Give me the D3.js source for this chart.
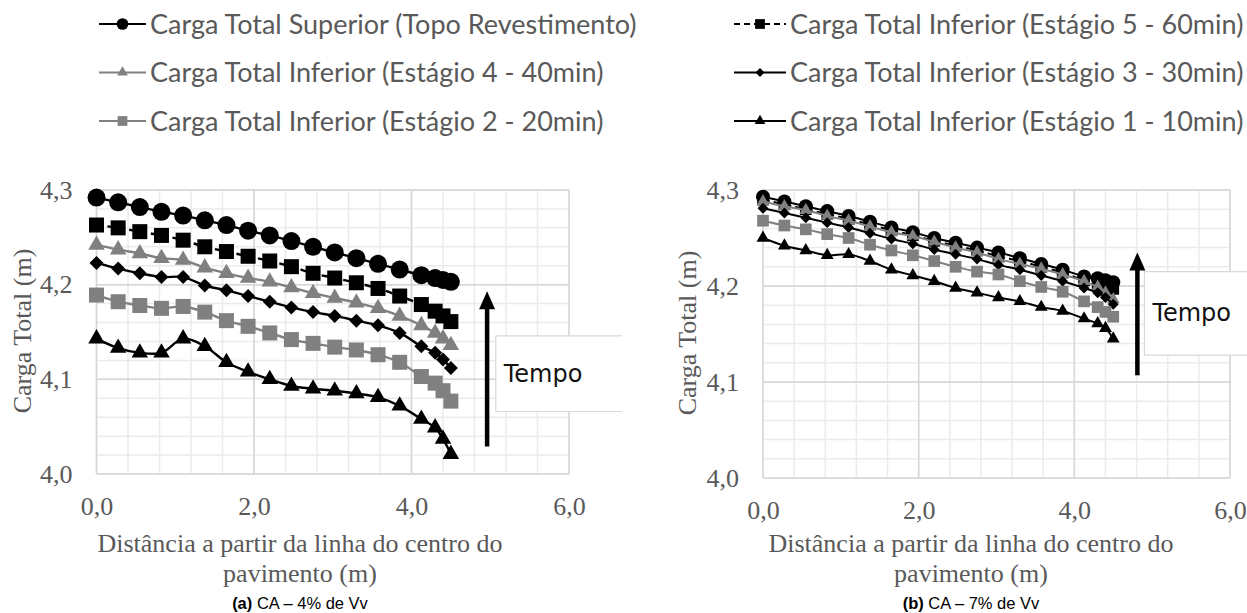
<!DOCTYPE html>
<html>
<head>
<meta charset="utf-8">
<script src="https://cdn.jsdelivr.net/npm/d3@7"></script>
<style>
body { margin: 0; background: #fff; }
svg { display: block; }
</style>
</head>
<body>
<script>
const W = 1247, H = 613

// distance from pavement centre line (m)
const distancia = [0, 0.275, 0.55, 0.825, 1.1, 1.375, 1.65, 1.925, 2.2, 2.475, 2.75, 3.025, 3.3, 3.575, 3.85, 4.125, 4.3, 4.4, 4.5]

const legendLabels = [
    "Carga Total Superior (Topo Revestimento)",
    "Carga Total Inferior (Estágio 5 - 60min)",
    "Carga Total Inferior (Estágio 4 - 40min)",
    "Carga Total Inferior (Estágio 3 - 30min)",
    "Carga Total Inferior (Estágio 2 - 20min)",
    "Carga Total Inferior (Estágio 1 - 10min)"
]

const yTicks = [4.0, 4.1, 4.2, 4.3]
const xTicks = [0, 2, 4, 6]

// (a) CA - 4% de Vv
const supA = [4.292, 4.287, 4.282, 4.277, 4.273, 4.268, 4.263, 4.257, 4.252, 4.246, 4.240, 4.234, 4.228, 4.222, 4.216, 4.210, 4.207, 4.205, 4.203]
const est5A = [4.263, 4.260, 4.256, 4.252, 4.247, 4.240, 4.235, 4.230, 4.225, 4.219, 4.212, 4.207, 4.202, 4.196, 4.188, 4.179, 4.172, 4.167, 4.161]
const est4A = [4.242, 4.237, 4.233, 4.228, 4.226, 4.218, 4.212, 4.207, 4.203, 4.197, 4.191, 4.186, 4.181, 4.175, 4.167, 4.157, 4.149, 4.143, 4.136]
const est3A = [4.223, 4.217, 4.212, 4.208, 4.208, 4.199, 4.194, 4.188, 4.182, 4.176, 4.171, 4.167, 4.162, 4.157, 4.149, 4.135, 4.128, 4.121, 4.112]
const est2A = [4.189, 4.182, 4.178, 4.175, 4.177, 4.171, 4.162, 4.156, 4.149, 4.142, 4.138, 4.134, 4.131, 4.126, 4.118, 4.103, 4.096, 4.088, 4.077]
const est1A = [4.143, 4.133, 4.128, 4.128, 4.143, 4.135, 4.118, 4.108, 4.100, 4.093, 4.090, 4.088, 4.085, 4.081, 4.072, 4.058, 4.049, 4.037, 4.021]

// (b) CA - 7% de Vv
const supB = [4.293, 4.288, 4.283, 4.278, 4.273, 4.267, 4.261, 4.256, 4.250, 4.245, 4.240, 4.235, 4.229, 4.223, 4.217, 4.210, 4.208, 4.206, 4.204]
const est5B = [4.290, 4.285, 4.280, 4.275, 4.270, 4.264, 4.258, 4.253, 4.247, 4.242, 4.237, 4.231, 4.226, 4.220, 4.214, 4.206, 4.203, 4.200, 4.197]
const est4B = [4.288, 4.283, 4.279, 4.273, 4.268, 4.262, 4.256, 4.252, 4.246, 4.240, 4.235, 4.228, 4.223, 4.218, 4.212, 4.205, 4.199, 4.193, 4.186]
const est3B = [4.281, 4.276, 4.271, 4.266, 4.261, 4.255, 4.249, 4.244, 4.238, 4.233, 4.228, 4.222, 4.217, 4.211, 4.205, 4.198, 4.193, 4.188, 4.181]
const est2B = [4.268, 4.263, 4.259, 4.254, 4.250, 4.243, 4.237, 4.232, 4.226, 4.220, 4.215, 4.212, 4.205, 4.199, 4.194, 4.184, 4.178, 4.173, 4.168]
const est1B = [4.250, 4.242, 4.237, 4.232, 4.233, 4.226, 4.217, 4.211, 4.205, 4.198, 4.193, 4.188, 4.184, 4.178, 4.174, 4.166, 4.161, 4.156, 4.145]

const gray = "#808080"
const textGray = "#595959"
const serif = "'Liberation Serif', 'Times New Roman', serif"

// marker / line style per series, same order as legendLabels
const styles = [
    {shape: "circle", color: "#000", dash: null},
    {shape: "square", color: "#000", dash: "7,4"},
    {shape: "triangle", color: gray, dash: null},
    {shape: "diamond", color: "#000", dash: null},
    {shape: "square", color: gray, dash: null},
    {shape: "triangle", color: "#000", dash: null}
]

const svg = d3.select("body").append("svg")
    .attr("width", W)
    .attr("height", H)

function markerPath(shape, s) {
    // s ~ marker width in px
    if (shape == "circle") return d3.symbol(d3.symbolCircle, Math.PI * s * s / 4)()
    if (shape == "square") return d3.symbol(d3.symbolSquare, s * s)()
    if (shape == "diamond") return d3.symbol(d3.symbolSquare, s * s / 2)()
    return d3.symbol(d3.symbolTriangle, s * s * Math.sqrt(3) / 4)()
}
function markerSize(shape, k) {
    let base = {circle: 18, square: 15, triangle: 16.5, diamond: 14}[shape]
    return base * k
}

function drawPanel(p) {
    let x = d3.scaleLinear().domain([0, 6]).range([p.left, p.right])
    let y = d3.scaleLinear().domain([4.0, 4.3]).range([p.bottom, p.top])
    let g = svg.append("g")

    // minor grid
    g.selectAll(".minx").data(d3.range(0, 6.001, 0.4)).enter().append("line")
        .attr("x1", d => x(d)).attr("x2", d => x(d))
        .attr("y1", p.top).attr("y2", p.bottom)
        .attr("stroke", "#ebebeb").attr("stroke-width", 1.5)
    g.selectAll(".miny").data(d3.range(4.0, 4.301, 0.02)).enter().append("line")
        .attr("x1", p.left).attr("x2", p.right)
        .attr("y1", d => y(d)).attr("y2", d => y(d))
        .attr("stroke", "#ebebeb").attr("stroke-width", 1.5)
    // major grid
    g.selectAll(".majx").data(xTicks).enter().append("line")
        .attr("x1", d => x(d)).attr("x2", d => x(d))
        .attr("y1", p.top).attr("y2", p.bottom)
        .attr("stroke", "#d6d6d6").attr("stroke-width", 1.5)
    g.selectAll(".majy").data(yTicks).enter().append("line")
        .attr("x1", p.left).attr("x2", p.right)
        .attr("y1", d => y(d)).attr("y2", d => y(d))
        .attr("stroke", "#d6d6d6").attr("stroke-width", 1.5)

    // axes (labels only)
    let fmt = d => d.toFixed(1).replace(".", ",")
    let ya = g.append("g").attr("transform", `translate(${p.left},0)`)
        .call(d3.axisLeft(y).tickValues(yTicks).tickFormat(fmt).tickSize(0).tickPadding(24))
    let xa = g.append("g").attr("transform", `translate(0,${p.bottom})`)
        .call(d3.axisBottom(x).tickValues(xTicks).tickFormat(fmt).tickSize(0).tickPadding(23))
    for (let a of [ya, xa]) {
        a.select(".domain").remove()
        a.selectAll("text").attr("font-family", serif).attr("font-size", 26).attr("fill", textGray)
    }

    // Tempo box + arrow
    let bx = x(p.boxX), bt = y(p.boxTop), bb = y(p.boxBottom)
    g.append("rect").attr("x", bx).attr("y", bt).attr("width", p.boxEnd - bx).attr("height", bb - bt)
        .attr("fill", "#fff")
    g.append("path")
        .attr("d", `M${p.boxEnd},${bt}H${bx}V${bb}H${p.boxEnd}`)
        .attr("fill", "none").attr("stroke", "#d9d9d9").attr("stroke-width", 1.2)
    g.append("text").attr("x", bx + 8).attr("y", (bt + bb) / 2 + 8)
        .attr("font-family", "'DejaVu Sans', sans-serif").attr("font-size", 24)
        .attr("fill", "#111").text("Tempo")
    let ax = x(p.arrowX), aTip = y(p.arrowTip), aTail = y(p.arrowTail)
    g.append("line").attr("x1", ax).attr("x2", ax).attr("y1", aTail).attr("y2", aTip + 14)
        .attr("stroke", "#000").attr("stroke-width", 4.5)
    g.append("path").attr("d", `M${ax},${aTip}L${ax + 8},${aTip + 18}L${ax - 8},${aTip + 18}Z`)
        .attr("fill", "#000")

    // series
    let line = d3.line().x((d, i) => x(distancia[i])).y(d => y(d)).curve(d3.curveCatmullRom.alpha(0.5))
    p.data.forEach((vals, si) => {
        let st = styles[si]
        let s = g.append("g")
        s.append("path").attr("d", line(vals))
            .attr("fill", "none").attr("stroke", st.color).attr("stroke-width", p.lw)
            .attr("stroke-dasharray", st.dash)
        s.selectAll("path.m").data(vals).enter().append("path").attr("class", "m")
            .attr("d", markerPath(st.shape, markerSize(st.shape, p.mk)))
            .attr("transform", (d, i) => `translate(${x(distancia[i])},${y(d)})` + (st.shape == "diamond" ? " rotate(45)" : ""))
            .attr("fill", st.color)
    })

    // axis titles
    svg.append("text")
        .attr("transform", `translate(${p.yTitleX},${(p.top + p.bottom) / 2 - 1}) rotate(-90)`)
        .attr("text-anchor", "middle").attr("dy", "0.35em")
        .attr("font-family", serif).attr("font-size", 26).attr("fill", textGray)
        .text("Carga Total (m)")
    let xt = svg.append("text").attr("text-anchor", "middle")
        .attr("font-family", serif).attr("font-size", 26).attr("fill", textGray)
    xt.append("tspan").attr("x", p.titleX).attr("y", 552).text("Distância a partir da linha do centro do")
    xt.append("tspan").attr("x", p.titleX).attr("y", 582).text("pavimento (m)")
    let cap = svg.append("text").attr("x", p.titleX).attr("y", 609).attr("text-anchor", "middle")
        .attr("font-family", "'Liberation Sans', Arial, sans-serif").attr("font-size", 16.5).attr("fill", "#000")
    cap.append("tspan").attr("font-weight", "bold").text(p.tag)
    cap.append("tspan").text(" " + p.caption)
}

drawPanel({
    left: 96.5, right: 569, top: 190, bottom: 474,
    yTitleX: 22, titleX: 300, tag: "(a)", caption: "CA – 4% de Vv",
    data: [supA, est5A, est4A, est3A, est2A, est1A], lw: 2.4, mk: 1,
    boxX: 5.07, boxTop: 4.146, boxBottom: 4.066, boxEnd: 622,
    arrowX: 4.96, arrowTip: 4.193, arrowTail: 4.029
})
drawPanel({
    left: 763, right: 1230, top: 190, bottom: 478,
    yTitleX: 687, titleX: 971, tag: "(b)", caption: "CA – 7% de Vv",
    data: [supB, est5B, est4B, est3B, est2B, est1B], lw: 2, mk: 0.78,
    boxX: 4.9, boxTop: 4.215, boxBottom: 4.128, boxEnd: W + 2,
    arrowX: 4.81, arrowTip: 4.235, arrowTail: 4.107
})

// legend, two columns of three rows
const legend = svg.append("g")
legendLabels.forEach((label, i) => {
    let col = i % 2, row = Math.floor(i / 2)
    let x0 = col == 0 ? 99 : 734
    let x1 = col == 0 ? 146 : 786
    let cy = 24 + row * 48.5
    let st = styles[i]
    let gl = legend.append("g")
    gl.append("line").attr("x1", x0).attr("x2", x1).attr("y1", cy).attr("y2", cy)
        .attr("stroke", st.color).attr("stroke-width", 2.2).attr("stroke-dasharray", st.dash ? "6,4" : null)
    gl.append("path").attr("d", markerPath(st.shape, markerSize(st.shape, 0.65)))
        .attr("transform", `translate(${(x0 + x1) / 2},${cy})` + (st.shape == "diamond" ? " rotate(45)" : ""))
        .attr("fill", st.color)
    gl.append("text").attr("x", x1 + 4).attr("y", cy + 9.5)
        .attr("font-family", "Lato, 'Open Sans', sans-serif").attr("font-size", 27)
        .attr("fill", textGray).text(label)
})
</script>
</body>
</html>
